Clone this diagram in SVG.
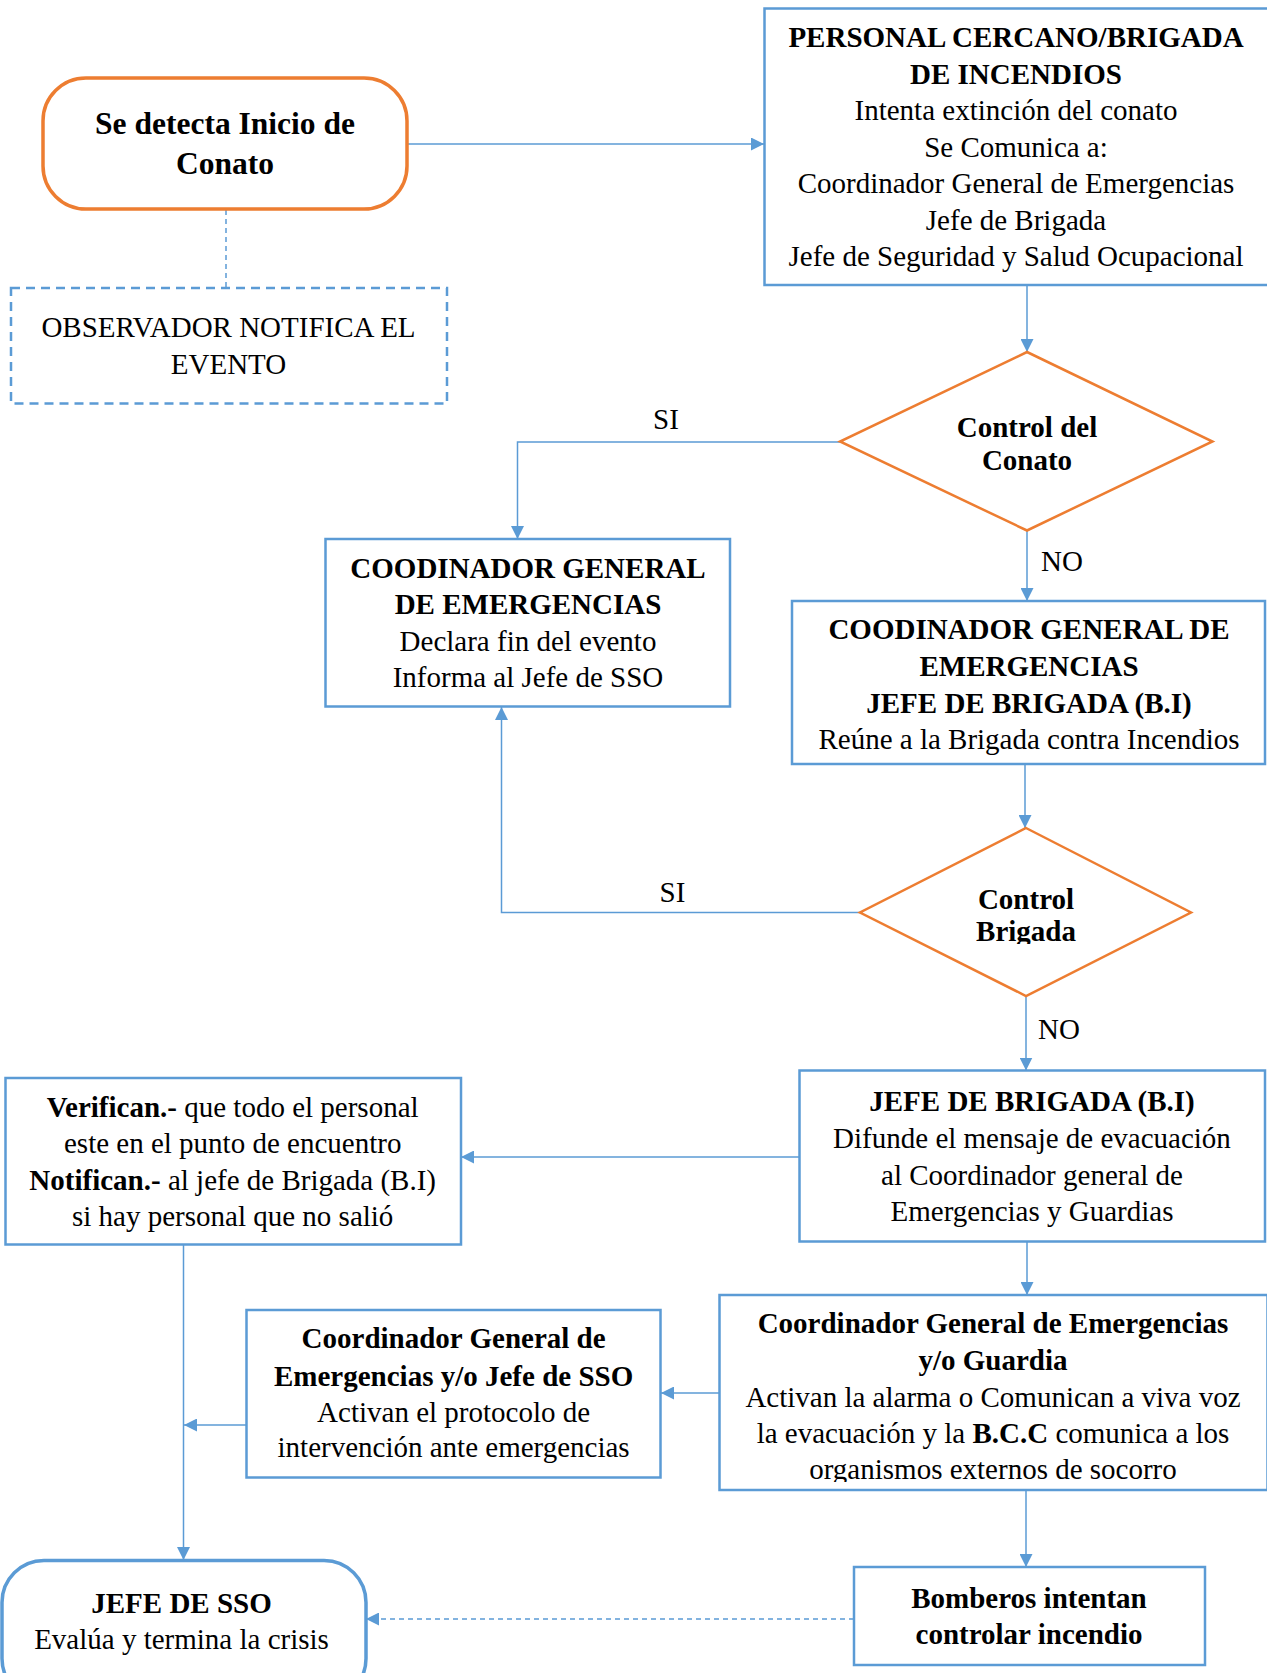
<svg xmlns="http://www.w3.org/2000/svg" width="1267" height="1673" viewBox="0 0 1267 1673">
  <defs>
    <style>
      text { font-family: "Liberation Serif", "Times New Roman", serif; font-size: 29px; fill: #000; text-anchor: middle; }
      .b { font-weight: bold; }
      .big { font-size: 31.5px; }
      .box { fill: #fff; stroke: #5B9BD5; stroke-width: 2.5; }
      .obox { fill: #fff; stroke: #ED7D31; stroke-width: 3.5; }
      .dec { fill: #fff; stroke: #ED7D31; stroke-width: 2.5; }
      .dbox { fill: #fff; stroke: #5B9BD5; stroke-width: 2.5; stroke-dasharray: 9 6; }
      .rbox { fill: #fff; stroke: #5B9BD5; stroke-width: 3.5; }
      .con { fill: none; stroke: #5B9BD5; stroke-width: 1.5; }
      .dash { stroke-dasharray: 5 4; }
    </style>
    <marker id="arr" viewBox="0 0 10 10" refX="10" refY="5" markerWidth="13" markerHeight="13" markerUnits="userSpaceOnUse" orient="auto">
      <path d="M0,0 L10,5 L0,10 z" fill="#5B9BD5"/>
    </marker>
    <clipPath id="clipBrig"><rect x="860" y="828" width="332" height="116"/></clipPath>
    <clipPath id="clipGuard"><rect x="719" y="1295" width="548" height="187"/></clipPath>
  </defs>

  <g id="connectors">
    <line class="con" x1="407" y1="144" x2="764" y2="144" marker-end="url(#arr)"/>
    <line class="con dash" x1="226" y1="210" x2="226" y2="288"/>
    <line class="con" x1="1027" y1="285" x2="1027" y2="352" marker-end="url(#arr)"/>
    <polyline class="con" points="840,442 517.5,442 517.5,539" marker-end="url(#arr)"/>
    <line class="con" x1="1027" y1="531" x2="1027" y2="601" marker-end="url(#arr)"/>
    <line class="con" x1="1025" y1="764" x2="1025" y2="828" marker-end="url(#arr)"/>
    <polyline class="con" points="860,912.5 501.5,912.5 501.5,707" marker-end="url(#arr)"/>
    <line class="con" x1="1026" y1="996" x2="1026" y2="1070.5" marker-end="url(#arr)"/>
    <line class="con" x1="799.5" y1="1157" x2="461" y2="1157" marker-end="url(#arr)"/>
    <line class="con" x1="183.5" y1="1245" x2="183.5" y2="1560" marker-end="url(#arr)"/>
    <line class="con" x1="1027" y1="1241.5" x2="1027" y2="1295" marker-end="url(#arr)"/>
    <line class="con" x1="719.5" y1="1393" x2="661" y2="1393" marker-end="url(#arr)"/>
    <line class="con" x1="246.5" y1="1425" x2="184" y2="1425" marker-end="url(#arr)"/>
    <line class="con" x1="1026" y1="1490" x2="1026" y2="1567" marker-end="url(#arr)"/>
    <line class="con dash" x1="854" y1="1619" x2="366" y2="1619" marker-end="url(#arr)"/>
    <text x="666" y="429">SI</text>
    <text x="1062" y="571">NO</text>
    <text x="672.5" y="902">SI</text>
    <text x="1059" y="1038.5">NO</text>
  </g>

  <g id="inicio">
    <rect class="obox" x="43" y="78" width="364" height="131" rx="43"/>
    <text class="b big" x="225" y="134">Se detecta Inicio de</text>
    <text class="b big" x="225" y="174">Conato</text>
  </g>

  <g id="observador">
    <rect class="dbox" x="11" y="288" width="436" height="115.5"/>
    <text x="228.5" y="337.3">OBSERVADOR NOTIFICA EL</text>
    <text x="228.5" y="373.6">EVENTO</text>
  </g>

  <g id="personal">
    <rect class="box" x="764.5" y="8.5" width="504" height="276.5"/>
    <text class="b" x="1016" y="47">PERSONAL CERCANO/BRIGADA</text>
    <text class="b" x="1016" y="83.5">DE INCENDIOS</text>
    <text x="1016" y="120">Intenta extinción del conato</text>
    <text x="1016" y="156.5">Se Comunica a:</text>
    <text x="1016" y="193">Coordinador General de Emergencias</text>
    <text x="1016" y="229.5">Jefe de Brigada</text>
    <text x="1016" y="266">Jefe de Seguridad y Salud Ocupacional</text>
  </g>

  <g id="control-conato">
    <polygon class="dec" points="1027,352 1212.5,441.5 1027,530.5 840,441.5"/>
    <text class="b" x="1027" y="436.6">Control del</text>
    <text class="b" x="1027" y="469.6">Conato</text>
  </g>

  <g id="coordinador-fin">
    <rect class="box" x="325.5" y="539" width="404.5" height="167.5"/>
    <text class="b" x="528" y="577.5">COODINADOR GENERAL</text>
    <text class="b" x="528" y="613.8">DE EMERGENCIAS</text>
    <text x="528" y="651">Declara fin del evento</text>
    <text x="528" y="687.4">Informa al Jefe de SSO</text>
  </g>

  <g id="coordinador-jefe">
    <rect class="box" x="792" y="601" width="473" height="163"/>
    <text class="b" x="1029" y="639.4">COODINADOR GENERAL DE</text>
    <text class="b" x="1029" y="675.6">EMERGENCIAS</text>
    <text class="b" x="1029" y="713">JEFE DE BRIGADA (B.I)</text>
    <text x="1029" y="749.3">Reúne a la Brigada contra Incendios</text>
  </g>

  <g id="control-brigada">
    <polygon class="dec" points="1026,828 1191,912.5 1026,996 860,912.5"/>
    <g clip-path="url(#clipBrig)">
      <text class="b" x="1026" y="909.4">Control</text>
      <text class="b" x="1026" y="941.4">Brigada</text>
    </g>
  </g>

  <g id="jefe-brigada">
    <rect class="box" x="799.5" y="1070.5" width="465.5" height="171"/>
    <text class="b" x="1032" y="1111">JEFE DE BRIGADA (B.I)</text>
    <text x="1032" y="1147.5">Difunde el mensaje de evacuación</text>
    <text x="1032" y="1184.8">al Coordinador general de</text>
    <text x="1032" y="1221">Emergencias y Guardias</text>
  </g>

  <g id="verifican">
    <rect class="box" x="5.5" y="1078" width="455.5" height="166.5"/>
    <text x="232.7" y="1116.5"><tspan class="b">Verifican.-</tspan> que todo el personal</text>
    <text x="232.7" y="1152.8">este en el punto de encuentro</text>
    <text x="232.7" y="1190"><tspan class="b">Notifican.-</tspan> al jefe de Brigada (B.I)</text>
    <text x="232.7" y="1226.4">si hay personal que no salió</text>
  </g>

  <g id="coordinador-guardia">
    <rect class="box" x="719.5" y="1295" width="548" height="195"/>
    <g clip-path="url(#clipGuard)">
      <text class="b" x="993" y="1333">Coordinador General de Emergencias</text>
      <text class="b" x="993" y="1369.5">y/o Guardia</text>
      <text x="993" y="1407">Activan la alarma o Comunican a viva voz</text>
      <text x="993" y="1443">la evacuación y la <tspan class="b">B.C.C</tspan> comunica a los</text>
      <text x="993" y="1479.4">organismos externos de socorro</text>
    </g>
  </g>

  <g id="protocolo">
    <rect class="box" x="246.5" y="1310" width="414" height="167.5"/>
    <text class="b" x="453.6" y="1348">Coordinador General de</text>
    <text class="b" x="453.6" y="1385.5">Emergencias y/o Jefe de SSO</text>
    <text x="453.6" y="1421.8">Activan el protocolo de</text>
    <text x="453.6" y="1457">intervención ante emergencias</text>
  </g>

  <g id="bomberos">
    <rect class="box" x="854" y="1567" width="351" height="98"/>
    <text class="b" x="1029" y="1607.5">Bomberos intentan</text>
    <text class="b" x="1029" y="1643.8">controlar incendio</text>
  </g>

  <g id="jefe-sso">
    <rect class="rbox" x="2" y="1560.5" width="364" height="140" rx="42"/>
    <text class="b" x="181.5" y="1612.8">JEFE DE SSO</text>
    <text x="181.5" y="1649">Evalúa y termina la crisis</text>
  </g>
</svg>
